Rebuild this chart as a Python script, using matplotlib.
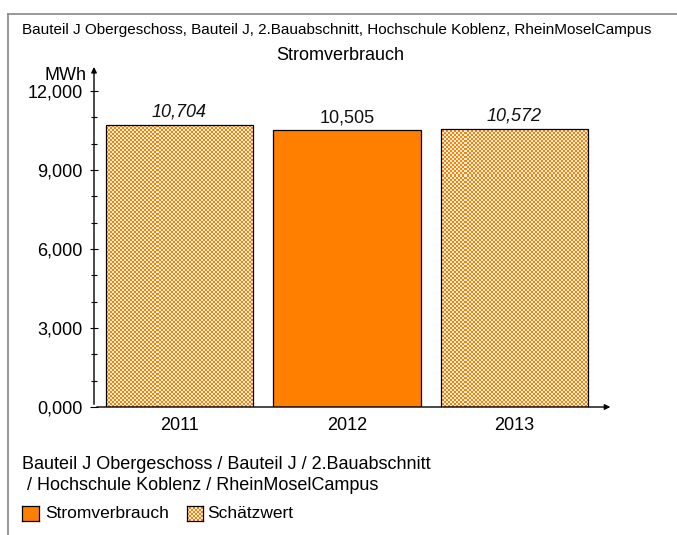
import matplotlib
matplotlib.use("Agg")
import numpy as np
import matplotlib.pyplot as plt
from matplotlib.colors import to_rgb
from matplotlib.lines import Line2D
from matplotlib.ticker import FixedLocator, FuncFormatter, MultipleLocator

plt.rcParams['font.family'] = ['Liberation Sans', 'DejaVu Sans']

years = ['2011', '2012', '2013']
values = [10.704, 10.505, 10.572]   # MWh
estimated = [True, False, True]
yticks = [0, 3, 6, 9, 12]

title1 = "Bauteil J Obergeschoss, Bauteil J, 2.Bauabschnitt, Hochschule Koblenz, RheinMoselCampus"
title2 = "Stromverbrauch"
footer = "Bauteil J Obergeschoss / Bauteil J / 2.Bauabschnitt\n / Hochschule Koblenz / RheinMoselCampus"
legend_labels = ["Stromverbrauch", "Schätzwert"]

ORANGE = '#FF8000'
LIGHT = '#FFF3E6'


def checker(w, h, cell=2):
    yy, xx = np.indices((h, w))
    mask = ((xx // cell + yy // cell) % 2).astype(bool)
    img = np.empty((h, w, 3))
    img[:] = to_rgb(LIGHT)
    img[mask] = to_rgb(ORANGE)
    return img


W, H = 677, 535
fig = plt.figure(figsize=(W / 100, H / 100), dpi=100)
AX_L, AX_B, AX_W, AX_H = 94, 128, 504, 316
ax = fig.add_axes([AX_L / W, AX_B / H, AX_W / W, AX_H / H])

XLIM = (-0.51, 2.5)
YLIM = (0, 12)
ax.set_xlim(*XLIM)
ax.set_ylim(*YLIM)

x = list(range(len(years)))
tex = checker(AX_W, AX_H)
for xi, v, est in zip(x, values, estimated):
    if est:
        bars = ax.bar(xi, v, width=0.88, color='none', linewidth=0, zorder=2)
        im = ax.imshow(tex, extent=(XLIM[0], XLIM[1], YLIM[0], YLIM[1]), aspect='auto',
                       interpolation='nearest', origin='lower', zorder=2)
        im.set_clip_path(bars[0])
    else:
        ax.bar(xi, v, width=0.88, color=ORANGE, linewidth=0, zorder=2)
ax.bar(x, values, width=0.88, fill=False, edgecolor='black', linewidth=0.9, zorder=3)
ax.set_xlim(*XLIM)
ax.set_ylim(*YLIM)

for xi, v, est in zip(x, values, estimated):
    ax.annotate(f"{v:.3f}".replace('.', ','), (xi, v), xytext=(0, 3), textcoords='offset points',
                ha='center', va='bottom', fontsize=13, style='italic' if est else 'normal', color='#111111')

ax.yaxis.set_major_locator(FixedLocator(yticks))
ax.yaxis.set_minor_locator(MultipleLocator(1))
ax.yaxis.set_major_formatter(FuncFormatter(lambda v, p: f"{v:.3f}".replace('.', ',')))
ax.tick_params(axis='y', which='both', direction='inout', length=6, width=0.8, labelsize=13, pad=5)
ax.tick_params(axis='y', which='minor', length=5)
ax.set_xticks(x)
ax.set_xticklabels(years)
ax.tick_params(axis='x', length=0, labelsize=13, pad=7)
for s in ['top', 'right', 'left', 'bottom']:
    ax.spines[s].set_visible(False)

# axis arrows
ax.annotate('', xy=(0, 1.085), xytext=(0, 0), xycoords='axes fraction',
            arrowprops=dict(arrowstyle='-|>', color='black', lw=1, mutation_scale=8), annotation_clip=False)
ax.annotate('', xy=(1.03, 0), xytext=(0, 0), xycoords='axes fraction',
            arrowprops=dict(arrowstyle='-|>', color='black', lw=1, mutation_scale=8), annotation_clip=False)
fig.text(87 / W, 1 - 75 / H, 'MWh', ha='right', va='center', fontsize=13)

fig.text(22 / W, 1 - 30 / H, title1, ha='left', va='center', fontsize=11)
fig.text(340 / W, 1 - 55 / H, title2, ha='center', va='center', fontsize=13)
fig.text(22 / W, 1 - 475 / H, footer, ha='left', va='center', fontsize=13, linespacing=1.32)

# legend (manual)
sw1 = fig.add_axes([22 / W, (H - 521) / H, 17 / W, 15 / H])
sw1.set_facecolor(ORANGE)
sw2 = fig.add_axes([187 / W, (H - 521) / H, 16 / W, 15 / H])
sw2.imshow(checker(16, 15), aspect='auto', interpolation='nearest', origin='lower')
for sw in (sw1, sw2):
    sw.set_xticks([])
    sw.set_yticks([])
    for s in sw.spines.values():
        s.set_linewidth(0.9)
fig.text(45 / W, 1 - 513 / H, legend_labels[0], ha='left', va='center', fontsize=12.5)
fig.text(207 / W, 1 - 513 / H, legend_labels[1], ha='left', va='center', fontsize=12.5)

# figure frame (left and top)
fig.add_artist(Line2D([8 / W, 8 / W], [0, 1 - 14 / H], color='#888888', lw=1.2, transform=fig.transFigure))
fig.add_artist(Line2D([8 / W, 1], [1 - 14 / H, 1 - 14 / H], color='#888888', lw=1.2, transform=fig.transFigure))

fig.savefig('out.png', dpi=100)
